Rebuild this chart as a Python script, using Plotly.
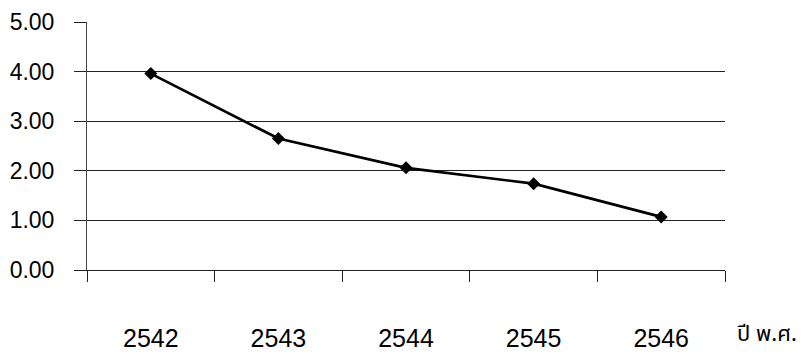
import plotly.graph_objects as go

# Buddhist-era years and the plotted values
years = ["2542", "2543", "2544", "2545", "2546"]
values = [3.96, 2.65, 2.06, 1.74, 1.07]
y_ticks = [0, 1, 2, 3, 4, 5]
x_unit_label = "ปี พ.ศ."

fig = go.Figure()
fig.add_trace(go.Scatter(
    x=years, y=values, mode="lines+markers",
    line=dict(color="black", width=2.7),
    marker=dict(symbol="diamond", size=10, color="black"),
    showlegend=False, cliponaxis=False,
))

fig.update_layout(
    width=808, height=354,
    margin=dict(l=87, r=83, t=22, b=84),
    paper_bgcolor="white", plot_bgcolor="white",
    font=dict(family="Liberation Sans, Arial, sans-serif", color="black", size=23),
    xaxis=dict(
        type="category", tickson="boundaries", range=[-0.5, 4.5],
        automargin=False,
        showgrid=False, showline=True, linecolor="#222", linewidth=1,
        ticks="outside", ticklen=11, tickcolor="#222", tickwidth=1,
        ticklabelstandoff=46, zeroline=False,
        tickfont=dict(size=25),
    ),
    yaxis=dict(
        range=[0, 5], tickvals=y_ticks, tickformat=".2f",
        automargin=False,
        showgrid=True, gridcolor="#222", gridwidth=1,
        showline=True, linecolor="#444", linewidth=1,
        ticks="outside", ticklen=12, tickcolor="#222", tickwidth=1,
        ticklabelstandoff=15, zeroline=False,
    ),
    annotations=[dict(
        text=x_unit_label, xref="paper", yref="paper",
        x=1.015, y=-0.26, xanchor="left", yanchor="middle",
        showarrow=False,
        font=dict(family="Noto Sans Thai, Loma, Garuda, Noto Sans, sans-serif", size=22, color="black"),
    )],
)

fig.write_html("out.html")
